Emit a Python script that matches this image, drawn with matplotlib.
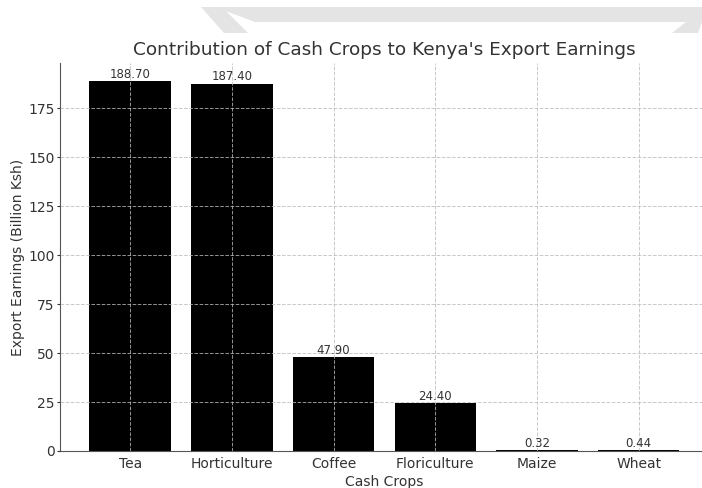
import matplotlib.pyplot as plt
from matplotlib.patches import Polygon

# Export earnings by cash crop (billion Ksh)
crops = ['Tea', 'Horticulture', 'Coffee', 'Floriculture', 'Maize', 'Wheat']
earnings = [188.70, 187.40, 47.90, 24.40, 0.32, 0.44]

W, H = 702, 488
fig = plt.figure(figsize=(W / 100, H / 100), dpi=100)
ax = fig.add_axes([60 / W, 37 / H, 649 / W, 388 / H])


def px(points):
    # pixel coords (from top-left) -> figure fraction
    return [(x / W, 1 - y / H) for x, y in points]


# light gray shapes across the top of the canvas
shapes = [
    [(215, 7), (702, 7), (702, 22), (255, 22)],
    [(201, 7), (222, 7), (248, 33), (224, 33)],
    [(686, 22), (702, 22), (698, 33), (672, 33)],
]
for pts in shapes:
    fig.patches.append(Polygon(px(pts), closed=True, transform=fig.transFigure,
                               color='#e4e4e4', lw=0, zorder=0))

bars = ax.bar(crops, earnings, color='black', width=0.8)

for b, v in zip(bars, earnings):
    ax.text(b.get_x() + b.get_width() / 2, v + 0.3, f'{v:.2f}',
            ha='center', va='bottom', fontsize=8.5, color='#333333')

ax.set_title("Contribution of Cash Crops to Kenya's Export Earnings",
             fontsize=13.3, color='#333333', pad=6)
ax.set_xlabel('Cash Crops', fontsize=10, color='#333333', labelpad=3)
ax.set_ylabel('Export Earnings (Billion Ksh)', fontsize=10, color='#333333',
              labelpad=2)
ax.tick_params(labelsize=10, colors='#333333')
ax.tick_params(axis='x', length=0, pad=4)
ax.tick_params(axis='y', length=2, pad=2)
ax.spines['top'].set_visible(False)
ax.spines['right'].set_visible(False)
ax.spines['left'].set_color('#555555')
ax.spines['bottom'].set_color('#555555')
ax.set_axisbelow(False)
ax.grid(True, linestyle='--', color='#bbbbbb', linewidth=0.7, alpha=0.8)

plt.savefig('out.png', dpi=100)
